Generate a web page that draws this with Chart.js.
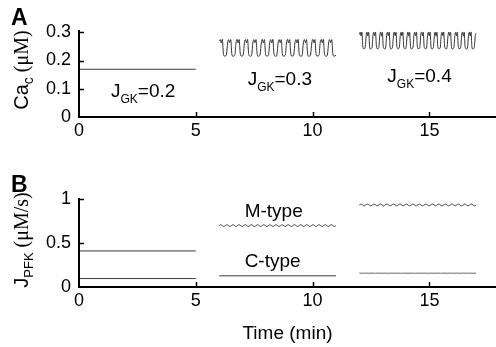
<!DOCTYPE html>
<html><head><meta charset="utf-8">
<script src="https://cdn.jsdelivr.net/npm/chart.js@4.4.0/dist/chart.umd.min.js"></script>
<style>
html,body{margin:0;padding:0;background:#fff;}
#wrap{position:relative;width:496px;height:347px;overflow:hidden;background:#fff;}
canvas{position:absolute;left:0;}
#cA{top:0;width:496px;height:165px;}
#cB{top:165px;width:496px;height:182px;}
</style></head><body>
<div id="wrap"><canvas id="cA" width="496" height="165"></canvas><canvas id="cB" width="496" height="182"></canvas></div>
<script>
// ---------- data ----------
const timeTicks = [0, 5, 10, 15];
const timeTickLabels = ['0', '5', '10', '15'];
const caTicks = [0, 0.1, 0.2, 0.3];
const caTickLabels = ['0', '0.1', '0.2', '0.3'];
const pfkTicks = [0, 0.5, 1];
const pfkTickLabels = ['0', '0.5', '1'];

// time windows (min) for the three J_GK runs
const segStart = [0, 6, 12];
const segEnd = [5, 11, 17];
const gkLabels = ['0.2', '0.3', '0.4'];

// Ca_c (uM), sampled uniformly over each window
const caGK02 = [0.169, 0.169];
const caGK03 = [
 0.270,0.274,0.262,0.275,0.226,0.216,0.216,0.223,
 0.262,0.274,0.263,0.274,0.225,0.215,0.216,0.222,
 0.262,0.275,0.262,0.274,0.226,0.216,0.216,0.223,
 0.263,0.274,0.262,0.275,0.225,0.216,0.215,0.222,
 0.262,0.274,0.263,0.274,0.226,0.215,0.216,0.223,
 0.262,0.275,0.262,0.274,0.225,0.216,0.216,0.222,
 0.263,0.274,0.262,0.275,0.226,0.216,0.215,0.223,
 0.262,0.274,0.263,0.274,0.225,0.215,0.216,0.222,
 0.262,0.275,0.262,0.274,0.226,0.216,0.216,0.223,
 0.263,0.274,0.262,0.275,0.225,0.216,0.215,0.222,
 0.262,0.274,0.263,0.274,0.226,0.215,0.216,0.223,
 0.262,0.275,0.262,0.274,0.225,0.216,0.216,0.222,
 0.263,0.274,0.262,0.275,0.226,0.216,0.215,0.223,
 0.262,0.274,0.263,0.274,0.225,0.215,0.216,0.219
];
const caGK04 = [
 0.292,0.300,0.287,0.301,0.251,0.242,0.242,0.249,
 0.288,0.301,0.288,0.300,0.250,0.241,0.242,0.248,
 0.288,0.300,0.287,0.301,0.251,0.242,0.242,0.249,
 0.289,0.301,0.286,0.300,0.250,0.242,0.241,0.248,
 0.288,0.300,0.287,0.301,0.251,0.241,0.242,0.249,
 0.288,0.301,0.288,0.300,0.250,0.242,0.242,0.248,
 0.289,0.300,0.287,0.301,0.251,0.242,0.241,0.249,
 0.288,0.301,0.286,0.300,0.250,0.241,0.242,0.248,
 0.288,0.300,0.287,0.301,0.251,0.242,0.242,0.249,
 0.289,0.301,0.288,0.300,0.250,0.242,0.241,0.248,
 0.288,0.300,0.287,0.301,0.251,0.241,0.242,0.249,
 0.288,0.301,0.286,0.300,0.250,0.242,0.242,0.248,
 0.289,0.300,0.287,0.301,0.251,0.242,0.241,0.249,
 0.288,0.301,0.288,0.300,0.250,0.241,0.242,0.248,
 0.288,0.300,0.287,0.301,0.251,0.242,0.242,0.249,
 0.289,0.301,0.286,0.300,0.250,0.242,0.241,0.248,
 0.288,0.300,0.287,0.301,0.251,0.241,0.242,0.249,
 0.288,0.297
];

// J_PFK (uM/s)
const mTypeGK02 = [0.410, 0.410];
const mTypeGK03 = [
 0.698,0.708,0.698,0.688, 0.698,0.708,0.698,0.688, 0.698,0.708,0.698,0.688, 0.698,0.708,0.698,0.688,
 0.698,0.708,0.698,0.688, 0.698,0.708,0.698,0.688, 0.698,0.708,0.698,0.688, 0.698,0.708,0.698,0.688,
 0.698,0.708,0.698,0.688, 0.698,0.708,0.698,0.688, 0.698,0.708,0.698,0.688, 0.698,0.708,0.698,0.688,
 0.698,0.708,0.698,0.688, 0.698,0.708,0.698,0.688, 0.698,0.708,0.698,0.688, 0.698,0.708,0.698,0.688,
 0.698,0.708,0.698,0.688, 0.698,0.708,0.698,0.688, 0.698,0.708,0.698,0.688, 0.698
];
const mTypeGK04 = [
 0.933,0.943,0.933,0.923, 0.933,0.943,0.933,0.923, 0.933,0.943,0.933,0.923, 0.933,0.943,0.933,0.923,
 0.933,0.943,0.933,0.923, 0.933,0.943,0.933,0.923, 0.933,0.943,0.933,0.923, 0.933,0.943,0.933,0.923,
 0.933,0.943,0.933,0.923, 0.933,0.943,0.933,0.923, 0.933,0.943,0.933,0.923, 0.933,0.943,0.933,0.923,
 0.933,0.943,0.933,0.923, 0.933,0.943,0.933,0.923, 0.933,0.943,0.933,0.923, 0.933,0.943,0.933,0.923,
 0.933,0.943,0.933,0.923, 0.933,0.943,0.933,0.923, 0.933
];
const cTypeGK02 = [0.096, 0.096];
const cTypeGK03 = [0.127, 0.127];
const cTypeGK04 = [
 0.158,0.156,0.158,0.156,0.158,0.156,0.158,0.156,0.158,0.156,0.158,0.156,
 0.158,0.156,0.158,0.156,0.158,0.156,0.158,0.156,0.158,0.156,0.158,0.156,
 0.158,0.156,0.158,0.156,0.158,0.156,0.158,0.156,0.158,0.156,0.158,0.156,0.158
];

// ---------- helpers ----------
const SANS = '"Liberation Sans", Arial, Helvetica, sans-serif';
const SERIF = '"Liberation Serif", "Times New Roman", serif';

function series(vals, k) {
  const t0 = segStart[k], t1 = segEnd[k];
  return vals.map((v, i) => ({ x: t0 + (t1 - t0) * i / (vals.length - 1), y: v }));
}
function ds(vals, k, color, mode) {
  const d = { data: series(vals, k), borderColor: color, borderWidth: 1, pointRadius: 0, fill: false, tension: 0 };
  if (mode === 'smooth') d.tension = 0.4;
  if (mode === 'monotone') { d.cubicInterpolationMode = 'monotone'; d.tension = 0.4; }
  return d;
}
// draw mixed text runs: [{t, font, dy}]
function runs(ctx, x, y, parts, align) {
  let w = 0;
  parts.forEach(p => { ctx.font = p.font; w += ctx.measureText(p.t).width; });
  let cx = align === 'center' ? x - w / 2 : x;
  ctx.textBaseline = 'alphabetic'; ctx.textAlign = 'left';
  parts.forEach(p => { ctx.font = p.font; ctx.fillText(p.t, cx, y + (p.dy || 0)); cx += ctx.measureText(p.t).width; });
}

function decorPlugin(cfg) {
  return {
    id: 'decor' + cfg.letter,
    afterDraw(chart) {
      const ctx = chart.ctx, a = chart.chartArea;
      const xs = chart.scales.x, ys = chart.scales.y;
      ctx.save();
      ctx.strokeStyle = '#000'; ctx.fillStyle = '#000';
      ctx.lineWidth = 2;
      ctx.beginPath();
      ctx.moveTo(a.left, a.top); ctx.lineTo(a.left, a.bottom);
      ctx.moveTo(a.left - 1, a.bottom); ctx.lineTo(a.right, a.bottom);
      ctx.stroke();
      ctx.lineWidth = 1.5;
      ctx.beginPath();
      xs.ticks.forEach(t => { if (t.value === 0) return; const px = Math.round(xs.getPixelForValue(t.value)) + 0.5;
        ctx.moveTo(px, a.bottom); ctx.lineTo(px, a.bottom - 5); });
      ys.ticks.forEach(t => { if (t.value === 0) return; const py = Math.round(ys.getPixelForValue(t.value)) + 0.5;
        ctx.moveTo(a.left, py); ctx.lineTo(a.left + 5, py); });
      ctx.stroke();
      ctx.font = 'bold 23px ' + SANS; ctx.textBaseline = 'alphabetic'; ctx.textAlign = 'left';
      ctx.fillText(cfg.letter, 11, cfg.letterY);
      ctx.save();
      ctx.translate(cfg.titleX, cfg.titleY);
      ctx.rotate(-Math.PI / 2);
      runs(ctx, 0, 0, cfg.title, 'center');
      ctx.restore();
      cfg.notes.forEach(n => {
        runs(ctx, xs.getPixelForValue(n.x), ys.getPixelForValue(n.y), n.parts, 'left');
      });
      ctx.restore();
    }
  };
}

function options(yTicks, yLabels, yMax, padTop, xHeight, xTitle) {
  return {
    responsive: false, animation: false,
    layout: { padding: { top: padTop, left: 0, right: 0, bottom: 0 } },
    plugins: { legend: { display: false }, tooltip: { enabled: false } },
    scales: {
      x: {
        type: 'linear', min: 0, max: 17.85,
        afterBuildTicks: s => { s.ticks = timeTicks.map(v => ({ value: v })); },
        afterFit: s => { s.height = xHeight; },
        grid: { display: false, drawTicks: false }, border: { display: false },
        ticks: { color: '#000', font: { family: SANS, size: 18 }, padding: 3, maxRotation: 0, autoSkip: false,
                 callback: v => timeTickLabels[timeTicks.indexOf(v)] },
        title: xTitle ? { display: true, text: xTitle, color: '#000', font: { family: SANS, size: 19 },
                          padding: { top: 0, bottom: 2 } } : { display: false }
      },
      y: {
        type: 'linear', min: 0, max: yMax,
        afterBuildTicks: s => { s.ticks = yTicks.map(v => ({ value: v })); },
        afterFit: s => { s.width = 79; },
        grid: { display: false, drawTicks: false }, border: { display: false },
        ticks: { color: '#000', font: { family: SANS, size: 18 }, padding: 8, autoSkip: false,
                 callback: v => yLabels[yTicks.indexOf(v)] }
      }
    }
  };
}

const LINE = '#3a3a3a';
const big = '19px ' + SANS, sub = '12px ' + SANS;

new Chart(document.getElementById('cA'), {
  type: 'line',
  data: { datasets: [ds(caGK02, 0, LINE), ds(caGK03, 1, '#333', 'monotone'), ds(caGK04, 2, '#333', 'monotone')] },
  options: options(caTicks, caTickLabels, 0.308, 30, 48, null),
  plugins: [decorPlugin({
    letter: 'A', letterY: 25, titleX: 28, titleY: 70,
    title: [{ t: 'Ca', font: '20px ' + SANS }, { t: 'c', font: '14px ' + SANS, dy: 5 }, { t: ' (\u03BCM)', font: '20px ' + SERIF }],
    notes: [
      { x: 1.37, y: 0.072, parts: [{ t: 'J', font: big }, { t: 'GK', font: sub, dy: 6 }, { t: '=' + gkLabels[0], font: big }] },
      { x: 7.22, y: 0.114, parts: [{ t: 'J', font: big }, { t: 'GK', font: sub, dy: 6 }, { t: '=' + gkLabels[1], font: big }] },
      { x: 13.2, y: 0.125, parts: [{ t: 'J', font: big }, { t: 'GK', font: sub, dy: 6 }, { t: '=' + gkLabels[2], font: big }] }
    ]
  })]
});

new Chart(document.getElementById('cB'), {
  type: 'line',
  data: { datasets: [
    ds(mTypeGK02, 0, LINE), ds(mTypeGK03, 1, LINE, 'smooth'), ds(mTypeGK04, 2, LINE, 'smooth'),
    ds(cTypeGK02, 0, LINE), ds(cTypeGK03, 1, LINE), ds(cTypeGK04, 2, '#666')
  ] },
  options: options(pfkTicks, pfkTickLabels, 1.012, 33, 60, 'Time (min)'),
  plugins: [decorPlugin({
    letter: 'B', letterY: 27, titleX: 28, titleY: 75,
    title: [{ t: 'J', font: '20px ' + SANS }, { t: 'PFK', font: '13px ' + SANS, dy: 5 }, { t: ' (\u03BCM/s)', font: '20px ' + SERIF }],
    notes: [
      { x: 7.09, y: 0.80, parts: [{ t: 'M-type', font: big }] },
      { x: 7.09, y: 0.222, parts: [{ t: 'C-type', font: big }] }
    ]
  })]
});
</script>
</body></html>
